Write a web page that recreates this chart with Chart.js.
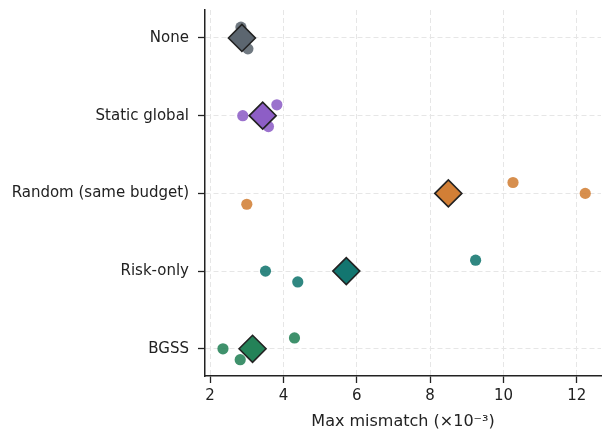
<!DOCTYPE html>
<html>
<head>
<meta charset="utf-8">
<script src="https://cdn.jsdelivr.net/npm/chart.js@4/dist/chart.umd.min.js"></script>
<style>
  html, body { margin: 0; padding: 0; background: #fff; }
  #wrap { width: 602px; height: 433px; }
</style>
</head>
<body>
<div id="wrap"><canvas id="c" width="602" height="433"></canvas></div>
<script>
// Strategies, top to bottom
const categories = ['None', 'Static global', 'Random (same budget)', 'Risk-only', 'BGSS'];

// Max mismatch per run (x10^-3), three runs per strategy
const noneRuns   = [2.84, 3.03, 2.73];
const staticRuns = [2.89, 3.82, 3.59];
const randomRuns = [3.00, 10.26, 12.23];
const riskRuns   = [3.51, 4.39, 9.24];
const bgssRuns   = [2.35, 2.82, 4.30];

// Vertical jitter of each run within its row (category units)
const noneJitter   = [-0.14, 0.14, 0];
const staticJitter = [0, -0.14, 0.14];
const randomJitter = [0.14, -0.14, 0];
const riskJitter   = [0, 0.14, -0.14];
const bgssJitter   = [0, 0.14, -0.14];

const xTicks = [2, 4, 6, 8, 10, 12];

const runs    = [noneRuns, staticRuns, randomRuns, riskRuns, bgssRuns];
const jitters = [noneJitter, staticJitter, randomJitter, riskJitter, bgssJitter];
const colors  = ['#5c6670', '#8d5ec6', '#d27f36', '#137670', '#248258'];

function withAlpha(hex, a) {
  const n = parseInt(hex.slice(1), 16);
  return `rgba(${(n >> 16) & 255},${(n >> 8) & 255},${n & 255},${a})`;
}
const mean = arr => arr.reduce((s, v) => s + v, 0) / arr.length;

const datasets = [];
runs.forEach((vals, i) => {
  // mean marker, drawn on top
  datasets.push({
    label: categories[i] + ' mean',
    data: [{ x: mean(vals), y: i }],
    pointStyle: 'rectRot',
    pointRadius: 13.5,
    pointHoverRadius: 13.5,
    backgroundColor: colors[i],
    borderColor: '#222222',
    borderWidth: 1.6,
    order: 0
  });
  // individual runs
  datasets.push({
    label: categories[i],
    data: vals.map((v, j) => ({ x: v, y: i + jitters[i][j] })),
    pointStyle: 'circle',
    pointRadius: 5.6,
    pointHoverRadius: 5.6,
    backgroundColor: withAlpha(colors[i], 0.88),
    borderWidth: 0,
    order: 1
  });
});

const tickFont = { family: 'DejaVu Sans', size: 15 };

new Chart(document.getElementById('c'), {
  type: 'scatter',
  data: { datasets },
  options: {
    responsive: false,
    animation: false,
    devicePixelRatio: 1,
    layout: { autoPadding: false, padding: { top: 10, right: 1, left: 0, bottom: 0 } },
    plugins: { legend: { display: false }, tooltip: { enabled: false } },
    scales: {
      x: {
        type: 'linear',
        min: 1.86,
        max: 12.66,
        afterBuildTicks: s => { s.ticks = xTicks.map(v => ({ value: v })); },
        afterFit: s => { s.height = 57; s.paddingLeft = 0; s.paddingRight = 0; },
        ticks: { font: tickFont, color: '#222', padding: 4, maxRotation: 0, callback: v => String(v) },
        grid: { color: '#e6e6e6', lineWidth: 1, tickColor: '#222', tickLength: 7, tickWidth: 1.3, tickBorderDash: [] },
        border: { display: true, color: '#222', width: 1.5, dash: [5, 3] },
        title: {
          display: true,
          text: 'Max mismatch (×10⁻³)',
          color: '#222',
          font: { family: 'DejaVu Sans', size: 16 },
          padding: { top: 0, bottom: 2 }
        }
      },
      y: {
        type: 'linear',
        reverse: true,
        min: -0.36,
        max: 4.35,
        afterBuildTicks: s => { s.ticks = categories.map((c, i) => ({ value: i })); },
        afterFit: s => { s.width = 205; s.paddingTop = 0; s.paddingBottom = 0; },
        ticks: { font: tickFont, color: '#222', padding: 9, callback: v => categories[v] },
        grid: { color: '#e6e6e6', lineWidth: 1, tickColor: '#222', tickLength: 7, tickWidth: 1.3, tickBorderDash: [] },
        border: { display: true, color: '#222', width: 1.5, dash: [5, 3] }
      }
    }
  }
});
</script>
</body>
</html>
